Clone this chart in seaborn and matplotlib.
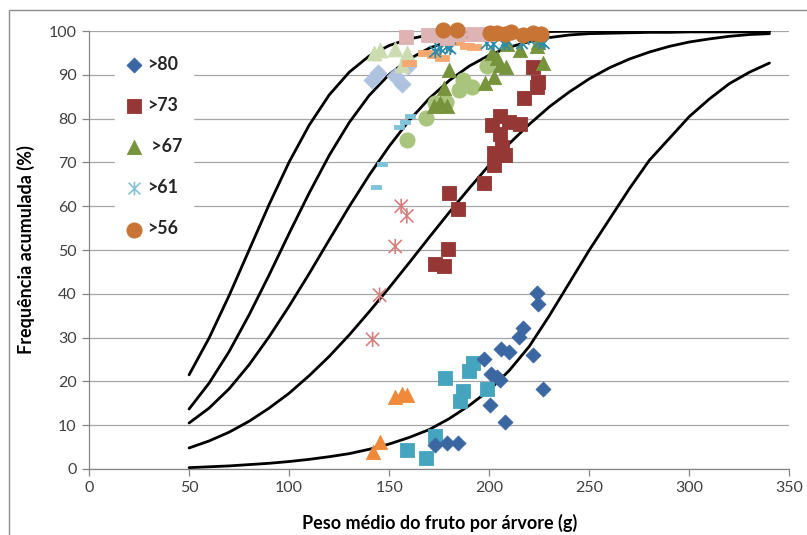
import matplotlib
matplotlib.use("Agg")
import matplotlib.pyplot as plt
from matplotlib.path import Path
from matplotlib.patches import Rectangle
import pandas as pd
import seaborn as sns

# ─── curvas ajustadas (pretas) ───────────────────────────────────────────────
curve_x = [50, 60, 70, 80, 90, 100, 110, 120, 130, 140, 150, 160, 170, 180, 190,
           200, 210, 220, 230, 240, 250, 260, 270, 280, 290, 300, 310, 320, 330, 340]
curve_1 = [21.5, 29.9, 39.6, 50.0, 60.4, 70.1, 78.5, 85.4, 90.6, 94.3, 96.7, 98.2,
           99.1, 99.6, 99.8, 99.9, 100, 100, 100, 100, 100, 100, 100, 100, 100, 100,
           100, 100, 100, 100]
curve_2 = [13.7, 19.6, 26.8, 35.2, 44.3, 53.8, 63.0, 71.6, 79.1, 85.3, 90.1, 93.6,
           96.1, 97.7, 98.7, 99.3, 99.7, 99.8, 99.9, 100, 100, 100, 100, 100, 100,
           100, 100, 100, 100, 100]
curve_3 = [10.5, 13.9, 18.3, 23.8, 30.2, 37.2, 44.6, 52.3, 59.9, 67.1, 73.7, 79.6,
           84.6, 88.7, 92.0, 94.5, 96.3, 97.6, 98.5, 99.1, 99.4, 99.5, 99.6, 99.7,
           99.7, 99.8, 99.8, 99.8, 99.8, 99.8]
curve_4 = [4.8, 6.4, 8.4, 10.9, 13.9, 17.3, 21.3, 25.7, 30.6, 35.9, 41.4, 47.1, 52.9,
           58.6, 64.1, 69.4, 74.3, 78.7, 82.7, 86.1, 89.1, 91.6, 93.6, 95.2, 96.5,
           97.5, 98.2, 98.8, 99.2, 99.4]
curve_5 = [0.3, 0.5, 0.7, 1.0, 1.3, 1.7, 2.2, 2.8, 3.5, 4.5, 5.7, 7.2, 9.0, 11.5,
           14.5, 18.0, 22.5, 28.0, 35.0, 42.5, 50.0, 57.0, 64.0, 70.5, 75.5, 80.5,
           84.5, 88.0, 90.6, 92.7]

# ─── pontos observados ───────────────────────────────────────────────────────
# >80 (losangos azuis)
d80_x = [223.8, 224.2, 216.8, 215.0, 197.5, 205.8, 209.7, 221.8, 200.8, 203.8,
         205.5, 226.8, 200.5, 207.7, 173.0, 178.8, 184.2]
d80_y = [40.1, 37.7, 32.1, 30.1, 25.0, 27.3, 26.6, 26.0, 21.8, 21.1, 20.3, 18.2,
         14.6, 10.7, 5.5, 5.9, 5.9]
# >73 (quadrados vermelhos)
s73_x = [221.8, 224.2, 223.8, 217.2, 205.2, 201.3, 209.7, 215.2, 205.5, 206.3,
         202.2, 208.0, 202.2, 197.5, 179.7, 184.3, 179.2, 173.0, 177.2]
s73_y = [91.9, 88.4, 87.3, 84.6, 80.6, 78.5, 79.3, 78.8, 76.6, 73.6, 72.2, 71.7,
         69.4, 65.4, 63.1, 59.3, 50.2, 46.8, 46.3]
# >67 (triângulos verdes)
t67_x = [179.7, 177.2, 172.2, 175.5, 178.8, 198.0, 202.2, 201.3, 203.8, 205.5,
         208.5, 215.2, 223.8, 226.8, 209.0, 224.5]
t67_y = [91.2, 86.9, 82.8, 83.6, 82.8, 88.2, 89.6, 94.9, 93.8, 92.2, 91.9, 95.7,
         96.6, 92.8, 97.0, 97.4]
# >61 (asteriscos azul-petróleo, topo)
a61_x = [173.0, 175.5, 178.8, 180.5, 198.8, 202.2, 207.5, 208.8, 216.3, 219.7,
         225.5, 227.2]
a61_y = [95.3, 96.0, 96.4, 96.0, 97.2, 97.0, 97.0, 97.9, 97.2, 98.3, 97.6, 97.2]
# >56 (círculos laranja)
c56_x = [177.0, 184.0, 200.5, 204.0, 208.0, 211.0, 217.0, 222.0, 226.0]
c56_y = [100.2, 100.2, 99.6, 99.5, 99.3, 99.7, 99.2, 99.6, 99.3]

# séries claras (sem legenda)
ld_x = [144.5, 141.5, 153.0, 156.5, 159.5]
ld_y = [90.5, 88.8, 89.8, 88.0, 92.0]
pt_x = [142.2, 145.5, 153.0, 158.8, 156.3]
pt_y = [94.9, 95.7, 96.0, 94.9, 92.2]
ps_x = [158.5, 169.5, 174.0, 179.0, 185.0, 192.5, 199.5]
ps_y = [98.7, 99.2, 99.0, 98.5, 99.4, 99.4, 99.4]
od_x = [159.7, 168.0, 172.2, 176.3, 183.8, 188.8, 192.2]
od_y = [92.6, 94.9, 94.5, 93.8, 97.4, 96.6, 96.4]
cd_x = [160.2, 158.0, 154.7, 146.3, 143.3]
cd_y = [80.6, 79.3, 78.2, 69.6, 64.3]
gc_x = [198.8, 186.7, 191.3, 184.7, 178.5, 172.7, 168.5, 158.8]
gc_y = [92.0, 88.9, 87.3, 86.5, 83.9, 83.5, 80.1, 75.1]
pa_x = [156.0, 158.8, 153.0, 145.2, 141.7]
pa_y = [60.0, 57.8, 50.8, 39.7, 29.6]
bx_x = [198.8, 191.8, 190.2, 187.2, 184.7, 178.0, 173.0, 158.8, 168.5]
bx_y = [76.0, 69.9, 66.0, 63.9, 59.3, 56.1, 55.0, 40.3, 40.0]
ot_x = [153.0, 156.3, 158.8, 145.2, 141.7]
ot_y = [16.5, 17.1, 17.0, 6.1, 3.9]
cs_x = [191.8, 189.7, 177.7, 186.8, 185.2, 198.8, 173.0, 158.8, 168.5]
cs_y = [24.1, 22.4, 20.7, 17.7, 15.6, 18.2, 7.6, 4.3, 2.4]

x_ticks = [0, 50, 100, 150, 200, 250, 300, 350]
y_ticks = [0, 10, 20, 30, 40, 50, 60, 70, 80, 90, 100]

sns.set_theme(style="white")
plt.rcParams["font.family"] = ["Lato", "DejaVu Sans"]

star = Path([(-1, -1), (1, 1), (-1, 1), (1, -1), (0, -1.15), (0, 1.15)],
            [Path.MOVETO, Path.LINETO, Path.MOVETO, Path.LINETO, Path.MOVETO, Path.LINETO])
dash = Path([(-1, -0.35), (1, -0.35), (1, 0.35), (-1, 0.35), (-1, -0.35)])

fig = plt.figure(figsize=(8.07, 5.35), dpi=100)
ax = fig.add_axes([0.1103, 0.1234, 0.868, 0.8186])

for cy in [curve_1, curve_2, curve_3, curve_4, curve_5]:
    sns.lineplot(x=curve_x, y=cy, color="black", linewidth=2.0, ax=ax, zorder=2)


def pts(xs, ys, color, marker, size, label=None, line=False, lw=1.2):
    df = pd.DataFrame({"x": xs, "y": ys})
    if line:
        sns.scatterplot(data=df, x="x", y="y", marker=marker, s=size, color=color,
                        facecolor="none", edgecolor=color, linewidth=lw,
                        ax=ax, zorder=3, clip_on=False, label=label)
    else:
        sns.scatterplot(data=df, x="x", y="y", marker=marker, s=size, color=color,
                        edgecolor=color, linewidth=0.6, ax=ax, zorder=3,
                        clip_on=False, label=label)


pts(ld_x, ld_y, "#AFC3E0", "D", 75)
pts(pt_x, pt_y, "#CCDCB0", "^", 115)
pts(cs_x, cs_y, "#45A4BE", "s", 105)
pts(ot_x, ot_y, "#F0893A", "^", 105)
pts(d80_x, d80_y, "#3A67A2", "D", 58, label=">80")
pts(s73_x, s73_y, "#953735", "s", 115, label=">73")
pts(gc_x, gc_y, "#A9C57D", "o", 120)
pts(t67_x, t67_y, "#77933C", "^", 105, label=" >67")
pts(bx_x, bx_y, "#819FD5", "x", 110, line=True, lw=1.2)
pts(pa_x, pa_y, "#D6807E", star, 120, line=True, lw=1.2)
pts(cd_x, cd_y, "#7DC4DA", dash, 60)
pts(od_x, od_y, "#F7A870", dash, 110)
pts(a61_x, a61_y, "#2F8CA8", star, 90, line=True, lw=1.3)
pts(ps_x, ps_y, "#DDB4B3", "s", 110)
pts(c56_x, c56_y, "#C77434", "o", 120, label=">56")

# legend handle for >61 uses the lighter blue asterisk
h61 = ax.scatter([], [], marker=star, s=95, facecolor="none", edgecolor="#86C2D8",
                 linewidth=1.2, label=">61")

handles, labels = ax.get_legend_handles_labels()
order = [">80", ">73", " >67", ">61", ">56"]
hmap = dict(zip(labels, handles))
leg = ax.legend([hmap[k] for k in order], order, loc="upper left",
                bbox_to_anchor=(0.037, 0.968), borderaxespad=0, frameon=True,
                facecolor="white", edgecolor="white", framealpha=1,
                fancybox=False, labelspacing=1.36, handlelength=1.0,
                handletextpad=0.2, borderpad=0.6,
                prop={"weight": "bold", "size": 12.8})
leg.set_zorder(5)

ax.set_xlim(0, 350)
ax.set_ylim(0, 100)
ax.set_xticks(x_ticks)
ax.set_yticks(y_ticks)
ax.yaxis.grid(True, color="#A6A6A6", linewidth=0.9)
ax.xaxis.grid(False)
ax.set_axisbelow(True)
for side in ["top", "right"]:
    ax.spines[side].set_visible(False)
for side in ["left", "bottom"]:
    ax.spines[side].set_color("#868686")
    ax.spines[side].set_linewidth(0.9)
ax.tick_params(axis="both", direction="out", length=5, width=0.9, color="#868686",
               labelsize=11.5, labelcolor="#404040", pad=4, bottom=True, left=True)
ax.set_xlabel("Peso médio do fruto por árvore (g)", fontsize=13, fontweight="bold",
              color="black", labelpad=13)
ax.set_ylabel("Frequência acumulada (%)", fontsize=13, fontweight="bold",
              color="black", labelpad=10)

# moldura da área do gráfico (cortada à direita e embaixo)
fig.patches.append(Rectangle((9 / 807, -0.05), 1.2, 1 - 10 / 535 + 0.05,
                             transform=fig.transFigure, fill=False,
                             edgecolor="#8C8C8C", linewidth=1.0))

fig.savefig("out.png", dpi=100)
